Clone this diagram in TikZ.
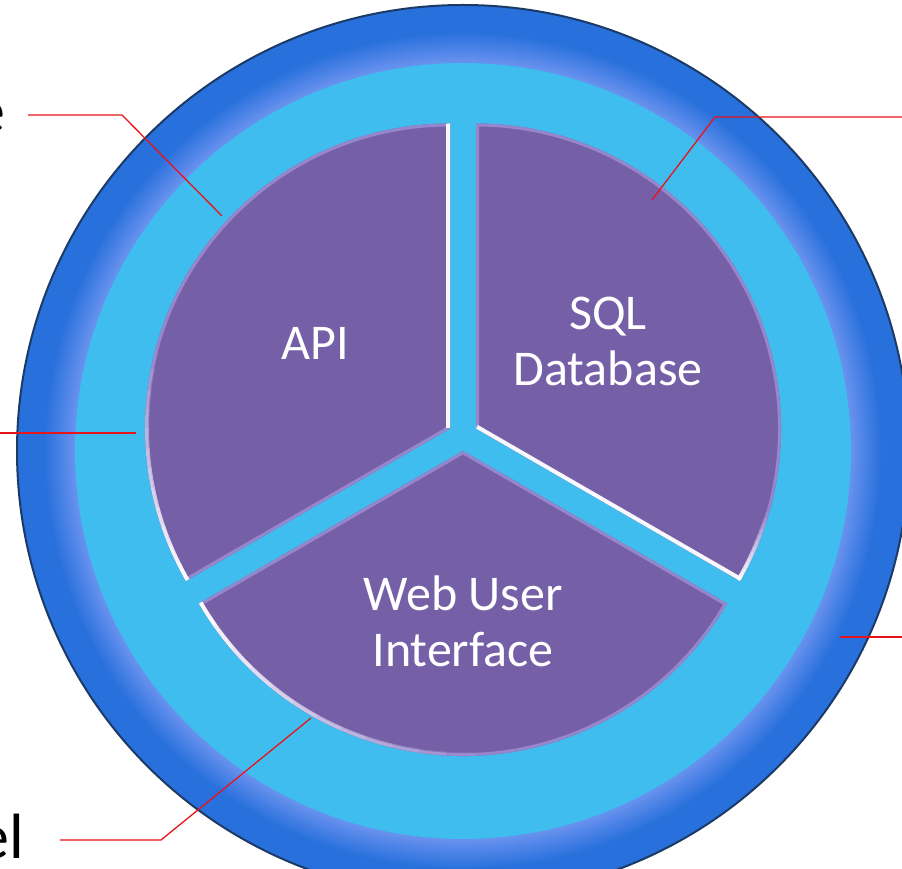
\documentclass[tikz,border=0pt]{standalone}
\usepackage{fontspec}
\setmainfont{Carlito}
\usetikzlibrary{calc}

\definecolor{ringdark}{HTML}{2870DC}
\definecolor{ringlight}{HTML}{6791EE}
\definecolor{ringedge}{HTML}{1C3A66}
\definecolor{skyband}{HTML}{3FBDEE}
\definecolor{slicefill}{HTML}{7560A8}
\definecolor{slicerim}{HTML}{9686CC}
\definecolor{calloutred}{HTML}{E8141C}

\tikzset{
  callout/.style={calloutred, line width=1.3},
  slicetext/.style={text=white, align=center, font=\fontsize{50}{56}\selectfont},
  sidelabel/.style={text=black, inner sep=0pt, font=\fontsize{64}{70}\selectfont},
}

\begin{document}
\begin{tikzpicture}[x=1pt, y=1pt]
  \fill[white] (0,0) rectangle (902,868);
  \useasboundingbox (0,0) rectangle (902,868);

  % outer ring, dark outside and lighter towards the inside
  \fill[ringdark] (463,417) circle (446);
  \foreach \i in {0,...,15} {
    \pgfmathtruncatemacro\mix{\i*100/15}
    \fill[ringlight!\mix!ringdark] (463,417) circle (420-2*\i);
  }
  \draw[ringedge, line width=2] (463,417) circle (446);
  \fill[skyband] (463,417) circle (388);

  % the three slices: tip x/y, start, end, highlight arc (from the corner), edge highlight
  \foreach \cx/\cy/\a/\b/\ha/\hb/\op in {476/439.5/-30/90/-30/-16/0.95,
                                         450/439.5/90/210/210/165/0.95,
                                         463/417/210/330/210/272/0} {
    \begin{scope}
      \clip (\cx,\cy) -- ++(\a:305) arc[start angle=\a, end angle=\b, radius=305] -- cycle;
      \fill[slicefill] (\cx,\cy) circle (310);
      \draw[slicerim, line width=6] (\cx,\cy) -- ++(\a:305)
        arc[start angle=\a, end angle=\b, radius=305] -- cycle;
      \draw[white, line width=8, opacity=\op] (\cx,\cy) -- ++(\a:305);
      \foreach \k in {0,...,11} {
        \pgfmathsetmacro\hs{\ha+(\hb-\ha)*\k/12}
        \pgfmathsetmacro\he{\ha+(\hb-\ha)*(\k+1)/12}
        \pgfmathsetmacro\fade{1-(\k+0.5)/12}
        \draw[white, line width=8, opacity=\fade] (\cx,\cy) ++(\hs:305)
          arc[start angle=\hs, end angle=\he, radius=305];
      }
    \end{scope}
  }

  \node[slicetext, anchor=base] (api) at (315,508) {API};
  \node[slicetext] (sqldb) at (608,527) {SQL\\Database};
  \node[slicetext] (webui) at (463,247) {Web User\\Interface};

  % labels cut by the page edge
  \node[sidelabel, anchor=base east] (toplbl) at (6,735) {e};
  \node[sidelabel, anchor=base east] (botlbl) at (24,10) {el};

  \coordinate (tlA) at (28,753);
  \coordinate (tlB) at (122,753);
  \coordinate (tlC) at (222,652);
  \coordinate (trA) at (652,668);
  \coordinate (trB) at (715,751);
  \coordinate (trC) at (902,751);
  \coordinate (lfA) at (0,435);
  \coordinate (lfB) at (136,435);
  \coordinate (rtA) at (840,231);
  \coordinate (rtB) at (902,231);
  \coordinate (blA) at (60,28);
  \coordinate (blB) at (161,28);
  \coordinate (blC) at (311,150);

  \draw[callout] (tlA) -- (tlB) -- (tlC);
  \draw[callout] (trA) -- (trB) -- (trC);
  \draw[callout] (lfA) -- (lfB);
  \draw[callout] (rtA) -- (rtB);
  \draw[callout] (blA) -- (blB) -- (blC);
\end{tikzpicture}
\end{document}
